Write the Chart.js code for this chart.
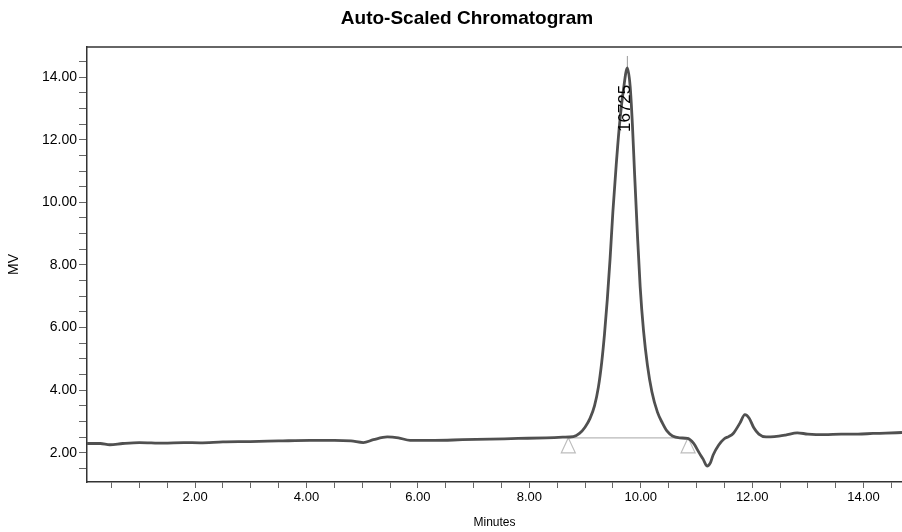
<!DOCTYPE html>
<html>
<head>
<meta charset="utf-8">
<script src="https://cdn.jsdelivr.net/npm/chart.js@4"></script>
<style>
  html, body { margin: 0; padding: 0; background: #ffffff; }
  #wrap { width: 902px; height: 532px; }
</style>
</head>
<body>
<div id="wrap"><canvas id="c" width="902" height="532"></canvas></div>
<script>
// ---- data ----
const times = [0.06, 0.30, 0.47, 0.70, 1.00, 1.43, 1.80, 2.09, 2.50, 2.99, 3.50, 4.06, 4.50, 4.80, 5.02, 5.20, 5.45, 5.65, 5.86, 6.30, 6.80, 7.30, 7.80, 8.30, 8.60, 8.79, 8.90, 9.00, 9.09, 9.17, 9.24, 9.30, 9.35, 9.40, 9.45, 9.50, 9.56, 9.62, 9.69, 9.76, 9.81, 9.85, 9.89, 9.94, 9.99, 10.05, 10.12, 10.20, 10.30, 10.39, 10.47, 10.57, 10.70, 10.84, 10.95, 11.05, 11.12, 11.19, 11.25, 11.30, 11.40, 11.50, 11.58, 11.66, 11.78, 11.87, 11.95, 12.03, 12.12, 12.25, 12.40, 12.60, 12.81, 13.00, 13.30, 13.60, 13.90, 14.17, 14.40, 14.69];
const mvValues = [2.30, 2.30, 2.26, 2.30, 2.33, 2.31, 2.33, 2.32, 2.35, 2.36, 2.38, 2.40, 2.40, 2.38, 2.33, 2.42, 2.51, 2.48, 2.40, 2.40, 2.42, 2.44, 2.46, 2.48, 2.50, 2.52, 2.62, 2.82, 3.10, 3.50, 4.10, 4.90, 5.80, 6.90, 8.20, 9.70, 11.20, 12.50, 13.60, 14.29, 13.70, 12.50, 10.90, 9.00, 7.30, 5.90, 4.80, 3.95, 3.30, 2.95, 2.70, 2.54, 2.48, 2.46, 2.30, 2.00, 1.80, 1.58, 1.68, 1.93, 2.25, 2.45, 2.52, 2.62, 2.95, 3.22, 3.10, 2.80, 2.60, 2.51, 2.52, 2.57, 2.64, 2.60, 2.58, 2.60, 2.60, 2.62, 2.63, 2.65];

const xTicks = [0.5, 1, 1.5, 2, 2.5, 3, 3.5, 4, 4.5, 5, 5.5, 6, 6.5, 7, 7.5, 8, 8.5, 9, 9.5, 10, 10.5, 11, 11.5, 12, 12.5, 13, 13.5, 14, 14.5];
const xTickLabels = [2, 4, 6, 8, 10, 12, 14];
const yTicks = [1.5, 2, 2.5, 3, 3.5, 4, 4.5, 5, 5.5, 6, 6.5, 7, 7.5, 8, 8.5, 9, 9.5, 10, 10.5, 11, 11.5, 12, 12.5, 13, 13.5, 14, 14.5];
const yTickLabels = [2, 4, 6, 8, 10, 12, 14];

const xRange = [0.06, 14.69];
const yRange = [1.07, 14.96];

const chartTitle = 'Auto-Scaled Chromatogram';
const peakTime = 9.76;
const peakHeight = 14.29;
const peakLabel = '16725';
const peakStart = 8.70;
const peakEnd = 10.85;
const baselineLevel = 2.48;

const FONT = '"Liberation Sans", Arial, sans-serif';

// ---- annotations plugin ----
const chromPlugin = {
  id: 'chrom',
  beforeDatasetsDraw(chart) {
    const {ctx, scales: {x, y}} = chart;
    ctx.save();
    // integration baseline
    ctx.strokeStyle = '#b8b8b8';
    ctx.lineWidth = 1.4;
    ctx.beginPath();
    ctx.moveTo(x.getPixelForValue(peakStart), y.getPixelForValue(baselineLevel));
    ctx.lineTo(x.getPixelForValue(peakEnd), y.getPixelForValue(baselineLevel));
    ctx.stroke();
    // start / end triangles
    ctx.strokeStyle = '#bdbdbd';
    ctx.lineWidth = 1.2;
    [peakStart, peakEnd].forEach(t => {
      const px = x.getPixelForValue(t);
      const py = y.getPixelForValue(baselineLevel);
      ctx.beginPath();
      ctx.moveTo(px, py);
      ctx.lineTo(px - 7, py + 15);
      ctx.lineTo(px + 7, py + 15);
      ctx.closePath();
      ctx.stroke();
    });
    // retention-time marker above apex
    const ax = x.getPixelForValue(peakTime);
    const ay = y.getPixelForValue(peakHeight);
    ctx.strokeStyle = '#9a9a9a';
    ctx.lineWidth = 1;
    ctx.beginPath();
    ctx.moveTo(ax, ay);
    ctx.lineTo(ax, ay - 12);
    ctx.stroke();
    ctx.restore();
  },
  afterDatasetsDraw(chart) {
    const {ctx, chartArea, scales: {x, y}} = chart;
    ctx.save();
    // top frame line
    ctx.strokeStyle = '#333';
    ctx.lineWidth = 1.5;
    ctx.beginPath();
    ctx.moveTo(chartArea.left, chartArea.top);
    ctx.lineTo(chartArea.right, chartArea.top);
    ctx.stroke();
    // peak label, rotated
    const px = x.getPixelForValue(peakTime) - 2;
    const py = y.getPixelForValue(13.0);
    ctx.translate(px, py);
    ctx.rotate(-Math.PI / 2);
    ctx.fillStyle = '#000';
    ctx.font = '17px ' + FONT;
    ctx.textAlign = 'center';
    ctx.textBaseline = 'middle';
    ctx.fillText(peakLabel, 0, 0);
    ctx.restore();
    // chart title
    ctx.save();
    ctx.fillStyle = '#000';
    ctx.font = 'bold 19px ' + FONT;
    ctx.textAlign = 'center';
    ctx.textBaseline = 'middle';
    ctx.fillText(chartTitle, 467, 19);
    ctx.restore();
  }
};

const points = times.map((t, i) => ({x: t, y: mvValues[i]}));

new Chart(document.getElementById('c'), {
  type: 'line',
  data: {
    datasets: [{
      data: points,
      borderColor: '#505050',
      borderWidth: 2.8,
      pointRadius: 0,
      cubicInterpolationMode: 'monotone',
      fill: false
    }]
  },
  options: {
    responsive: false,
    animation: false,
    devicePixelRatio: 1,
    layout: { padding: { top: 47, right: 0, left: 0, bottom: 0 } },
    plugins: { legend: { display: false }, tooltip: { enabled: false }, title: { display: false } },
    scales: {
      x: {
        type: 'linear',
        min: xRange[0],
        max: xRange[1],
        afterBuildTicks: axis => { axis.ticks = xTicks.map(v => ({value: v})); },
        afterFit: axis => { axis.height = 50; },
        grid: { display: true, drawOnChartArea: false, drawTicks: true, tickLength: 6, tickColor: '#666', tickWidth: 1 },
        border: { display: true, color: '#333', width: 1.5 },
        ticks: {
          autoSkip: false, maxRotation: 0, padding: 2,
          color: '#000',
          font: { family: FONT, size: 13 },
          callback: v => xTickLabels.includes(v) ? v.toFixed(2) : ''
        },
        title: { display: true, text: 'Minutes', color: '#000',
          font: { family: FONT, size: 12 },
          padding: { top: 0, bottom: 2 } }
      },
      y: {
        type: 'linear',
        min: yRange[0],
        max: yRange[1],
        afterBuildTicks: axis => { axis.ticks = yTicks.map(v => ({value: v})); },
        afterFit: axis => { axis.width = 87; },
        grid: { display: true, drawOnChartArea: false, drawTicks: true, tickLength: 8, tickColor: '#666', tickWidth: 1 },
        border: { display: true, color: '#333', width: 1.5 },
        ticks: {
          autoSkip: false, padding: 2,
          color: '#000',
          font: { family: FONT, size: 14 },
          callback: v => yTickLabels.includes(v) ? v.toFixed(2) : ''
        },
        title: { display: true, text: 'MV', color: '#000',
          font: { family: FONT, size: 14 },
          padding: { top: 6, bottom: 0 } }
      }
    }
  },
  plugins: [chromPlugin]
});
</script>
</body>
</html>
